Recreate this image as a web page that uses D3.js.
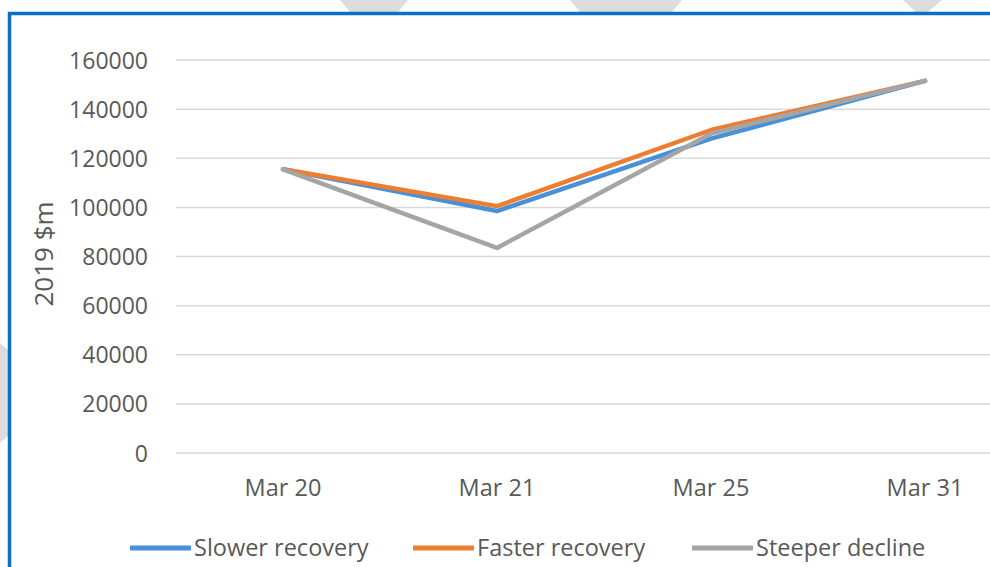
<!DOCTYPE html>
<html>

<head>
    <title>Scenarios</title>
    <script src="https://cdn.jsdelivr.net/npm/d3@7"></script>
    <style>
        body { margin: 0; background: #fff; }
        text { font-family: 'Open Sans', sans-serif; fill: #595959; }
    </style>
</head>

<body>
    <svg width="990" height="567" id="mainsvg"></svg>
    <script>
        const categories = ['Mar 20', 'Mar 21', 'Mar 25', 'Mar 31'];
        const seriesNames = ['Slower recovery', 'Faster recovery', 'Steeper decline'];
        const slower = [115500, 98500, 128000, 151500];
        const faster = [115500, 100500, 131500, 151500];
        const steeper = [115500, 83500, 130000, 151500];
        const yTicks = [0, 20000, 40000, 60000, 80000, 100000, 120000, 140000, 160000];
        const colors = ['#4a90d9', '#ed7d31', '#a5a5a5'];

        const svg = d3.select('svg');
        const width = +svg.attr('width');
        const height = +svg.attr('height');

        // watermark stripes peeking out behind the frame
        const marks = [
            [[340, 0], [408, 0], [398, 12], [350, 12]],
            [[570, 0], [682, 0], [672, 12], [580, 12]],
            [[903, 0], [942, 0], [928, 12], [916, 12]],
            [[0, 343], [8, 350], [8, 436], [0, 443]]
        ];
        svg.selectAll('.wm').data(marks).join('polygon')
            .attr('class', 'wm')
            .attr('points', d => d.map(p => p.join(',')).join(' '))
            .attr('fill', '#dddddd');

        // chart frame
        svg.append('path')
            .attr('d', `M9.5,${height + 5} V13.5 H${width + 5}`)
            .attr('fill', 'none')
            .attr('stroke', '#0a70c6')
            .attr('stroke-width', 3.5);

        const x = d3.scaleBand().domain(categories).range([176, 1032]).padding(0);
        const y = d3.scaleLinear().domain([0, 160000]).range([453, 60]);
        const cx = d => x(d) + x.bandwidth() / 2;

        const grid = svg.append('g');
        grid.selectAll('line').data(yTicks).join('line')
            .attr('x1', 176).attr('x2', width)
            .attr('y1', d => y(d)).attr('y2', d => y(d))
            .attr('stroke', '#d9d9d9').attr('stroke-width', 1.5);

        const yAxis = d3.axisLeft(y).tickValues(yTicks).tickSize(0).tickPadding(0).tickFormat(d3.format('d'));
        svg.append('g').attr('transform', 'translate(148,0)').call(yAxis)
            .call(g => g.select('.domain').remove())
            .selectAll('text').attr('font-size', 23).attr('dy', '0.35em')
            .style('font-family', "'Open Sans', sans-serif").attr('fill', '#595959');

        const xAxis = d3.axisBottom(x).tickSize(0).tickPadding(0);
        svg.append('g').attr('transform', 'translate(0,488)').call(xAxis)
            .call(g => g.select('.domain').remove())
            .selectAll('text').attr('font-size', 23.5).attr('dy', '0.35em')
            .style('font-family', "'Open Sans', sans-serif").attr('fill', '#595959');

        svg.append('text')
            .attr('transform', 'translate(44,254) rotate(-90)')
            .attr('text-anchor', 'middle').attr('dy', '0.35em')
            .attr('font-size', 26)
            .text('2019 $m');

        const series = [slower, faster, steeper];
        const line = d3.line().x((d, i) => cx(categories[i])).y(d => y(d));
        svg.append('g').selectAll('path').data(series).join('path')
            .attr('d', line)
            .attr('fill', 'none')
            .attr('stroke', (d, i) => colors[i])
            .attr('stroke-width', 4.5)
            .attr('stroke-linejoin', 'round')
            .attr('stroke-linecap', 'round');

        // legend
        const legendX = [130, 413, 692];
        const legend = svg.append('g').selectAll('g').data(seriesNames).join('g')
            .attr('transform', (d, i) => `translate(${legendX[i]},548)`);
        legend.append('line')
            .attr('x1', 0).attr('x2', 61)
            .attr('stroke', (d, i) => colors[i])
            .attr('stroke-width', 5);
        legend.append('text')
            .attr('x', 64).attr('dy', '0.35em')
            .attr('font-size', 23.5)
            .text(d => d);
    </script>
</body>

</html>
